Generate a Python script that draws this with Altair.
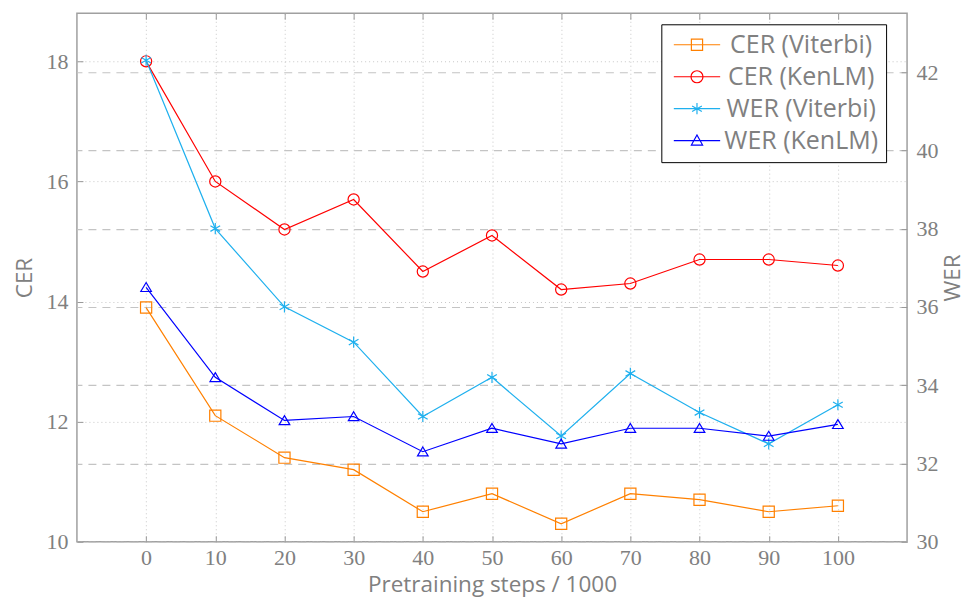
import altair as alt
import pandas as pd

steps = [0, 10, 20, 30, 40, 50, 60, 70, 80, 90, 100]
cer_viterbi = [13.9, 12.1, 11.4, 11.2, 10.5, 10.8, 10.3, 10.8, 10.7, 10.5, 10.6]
cer_kenlm = [18.0, 16.0, 15.2, 15.7, 14.5, 15.1, 14.2, 14.3, 14.7, 14.7, 14.6]
wer_viterbi = [42.3, 38.0, 36.0, 35.1, 33.2, 34.2, 32.7, 34.3, 33.3, 32.5, 33.5]
wer_kenlm = [36.5, 34.2, 33.1, 33.2, 32.3, 32.9, 32.5, 32.9, 32.9, 32.7, 33.0]

series = ["CER (Viterbi)", "CER (KenLM)", "WER (Viterbi)", "WER (KenLM)"]
colors = ["#ff8000", "#ff0000", "#1fb0ee", "#0000ff"]
cer_ticks = [10, 12, 14, 16, 18]
wer_ticks = [30, 32, 34, 36, 38, 40, 42]

# marker shapes (unit square -1..1)
SQ = "M-1,-1H1V1H-1Z"
CI = "M1,0A1,1,0,1,1,-1,0A1,1,0,1,1,1,0"
AS = "M0,-1V1M-0.87,-0.5L0.87,0.5M-0.87,0.5L0.87,-0.5"
TR = "M0,-0.85L0.95,0.75H-0.95Z"

# legend symbols: line + marker
L = "M-1,0H4.8"
LSQ = L + "M1.2,-0.7H2.6V0.7H1.2Z"
LCI = L + "M2.65,0A0.75,0.75,0,1,1,1.15,0A0.75,0.75,0,1,1,2.65,0"
LAS = L + "M1.9,-0.7V0.7M1.29,-0.35L2.51,0.35M1.29,0.35L2.51,-0.35"
LTR = L + "M1.9,-0.7L2.6,0.55H1.2Z"
legend_shapes = [LSQ, LCI, LAS, LTR]


def long(names, lists):
    rows = []
    for n, vals in zip(names, lists):
        for s, v in zip(steps, vals):
            rows.append({"step": s, "series": n, "value": v})
    return pd.DataFrame(rows)


cer_df = long(series[:2], [cer_viterbi, cer_kenlm])
wer_df = long(series[2:], [wer_viterbi, wer_kenlm])

GRAY = "#808080"
SERIF = "Liberation Serif"
SANS = "Open Sans"

legend = alt.Legend(
    title=None,
    orient="none",
    legendX=585,
    legendY=11,
    direction="vertical",
    strokeColor="black",
    fillColor="white",
    padding=8,
    cornerRadius=0,
    labelFont=SANS,
    labelFontSize=25,
    labelColor=GRAY,
    labelAlign="center",
    labelOffset=107,
    labelLimit=300,
    rowPadding=6,
    symbolSize=256,
    symbolStrokeWidth=1.2,
    symbolOpacity=1,
)

color = alt.Color("series:N", scale=alt.Scale(domain=series, range=colors), legend=legend)
shape = alt.Shape("series:N", scale=alt.Scale(domain=series, range=legend_shapes), legend=legend)

x_scale = alt.Scale(domain=[-10, 110], nice=False, zero=False)

common = dict(tickColor="#999999", tickSize=6, offset=-6, domain=False,
              labelFont=SERIF, labelFontSize=22, labelColor=GRAY,
              titleFont=SANS, titleFontSize=22.5, titleColor=GRAY, titleFontWeight="normal")

x_axis = alt.Axis(
    values=steps, grid=True, gridDash=[1, 3], gridColor="#c8c8c8", labelPadding=6,
    title="Pretraining steps / 1000", titleY=49, titleBaseline="middle", **common,
)
x_axis_top = alt.Axis(
    orient="top", values=steps, labels=False, grid=False, title=None,
    tickColor="#999999", tickSize=6, offset=-6, domain=False,
)
y_left_axis = alt.Axis(
    values=cer_ticks, grid=True, gridDash=[1, 3], gridColor="#c8c8c8", labelPadding=9,
    title="CER", titleX=-58, titleAngle=270, titleBaseline="middle", titleAlign="center",
    **common,
)
y_right_axis = alt.Axis(
    orient="right", values=wer_ticks, grid=True, gridDash=[8, 6], gridColor="#c4c4c4",
    gridWidth=1.2, labelPadding=9, title="WER", titleX=51, titleAngle=270,
    titleBaseline="middle", titleAlign="center", **common,
)


def panel(df, x_ax, y_scale, y_ax, names, marker_shapes, with_legend_layer):
    base = alt.Chart(df).encode(
        x=alt.X("step:Q", scale=x_scale, axis=x_ax),
        y=alt.Y("value:Q", scale=y_scale, axis=y_ax),
        color=color,
    )
    layers = [base.mark_line(strokeWidth=1.2)]
    for n, shp in zip(names, marker_shapes):
        layers.append(
            base.transform_filter(alt.datum.series == n).mark_point(
                shape=shp, filled=False, size=125, strokeWidth=1.2, opacity=1
            )
        )
    if with_legend_layer:
        layers.append(
            base.mark_point(filled=False, size=256, opacity=0).encode(shape=shape)
        )
    return alt.layer(*layers)


cer_layer = panel(cer_df, x_axis, alt.Scale(domain=[10, 18.8], nice=False, zero=False),
                  y_left_axis, series[:2], [SQ, CI], True)
wer_layer = panel(wer_df, x_axis_top, alt.Scale(domain=[30, 43.5], nice=False, zero=False),
                  y_right_axis, series[2:], [AS, TR], False)

chart = (
    alt.layer(cer_layer, wer_layer)
    .resolve_scale(y="independent")
    .resolve_axis(x="independent", y="independent")
    .properties(width=831, height=529, padding={"left": 6, "top": 4, "right": 4, "bottom": 4})
    .configure_view(stroke="#a0a0a0", strokeWidth=1.5)
)

chart.save("out.html", embed_options={"renderer": "svg", "actions": False})
